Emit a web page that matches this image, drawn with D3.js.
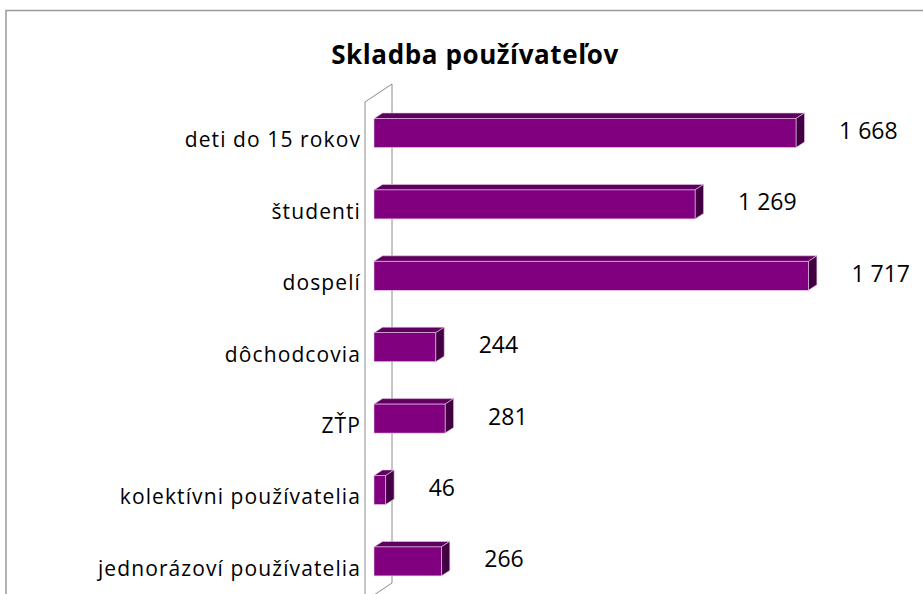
<!DOCTYPE html>
<html>
<head>
<meta charset="utf-8">
<script src="https://cdn.jsdelivr.net/npm/d3@7/dist/d3.min.js"></script>
<style>
  html, body { margin: 0; padding: 0; background: #fff; }
  svg { display: block; }
  text { font-family: "Open Sans", "DejaVu Sans", sans-serif; fill: #000; }
</style>
</head>
<body>
<svg id="chart" width="923" height="594"></svg>
<script>
const title = "Skladba používateľov";
const categories = [
  "deti do 15 rokov",
  "študenti",
  "dospelí",
  "dôchodcovia",
  "ZŤP",
  "kolektívni používatelia",
  "jednorázoví používatelia"
];
const values = [1668, 1269, 1717, 244, 281, 46, 266];
const valueLabels = ["1 668", "1 269", "1 717", "244", "281", "46", "266"];

const W = 923, H = 594;
const svg = d3.select("#chart");

// chart frame
svg.append("path")
  .attr("d", `M6,${H + 5} V10.5 H${W + 5}`)
  .attr("fill", "none")
  .attr("stroke", "#9a9a9a")
  .attr("stroke-width", 1.5);

// title
svg.append("text")
  .attr("x", 475)
  .attr("y", 64)
  .attr("text-anchor", "middle")
  .attr("font-size", 26)
  .attr("font-weight", "bold")
  .attr("letter-spacing", 0.6)
  .text(title);

// scales
const x = d3.scaleLinear().domain([0, 1800]).range([374, 374 + 1800 * 0.2530]);
const y = d3.scaleBand()
  .domain(categories)
  .range([97.3, 97.3 + 71.4 * categories.length])
  .paddingInner(0.594)
  .paddingOuter(0.297);

// 3D depth for the wall and bars
const wallDX = 27, wallDY = -18;
const barDX = 8.5, barDY = -5.5;
const wallFrontX = 365;
const wallTop = 102, wallBottom = 601;

const wall = svg.append("g")
  .attr("fill", "none")
  .attr("stroke", "#8c8c8c")
  .attr("stroke-width", 1);
wall.append("path")
  .attr("d", `M${wallFrontX},${wallBottom} V${wallTop} L${wallFrontX + wallDX},${wallTop + wallDY} V${wallBottom + wallDY} L${wallFrontX},${wallBottom}`);

// bars
const bars = svg.append("g").selectAll("g.bar")
  .data(categories.map((c, i) => ({ c, v: values[i], label: valueLabels[i] })))
  .join("g").attr("class", "bar");

bars.each(function(d) {
  const g = d3.select(this);
  const x0 = x(0), x1 = x(d.v);
  const y0 = y(d.c), h = y.bandwidth();
  // top face
  g.append("path")
    .attr("d", `M${x0},${y0} L${x0 + barDX},${y0 + barDY} L${x1 + barDX},${y0 + barDY} L${x1},${y0} Z`)
    .attr("fill", "#5f005f")
    .attr("stroke", "#e8c8e8").attr("stroke-width", 0.6);
  // side face
  g.append("path")
    .attr("d", `M${x1},${y0} L${x1 + barDX},${y0 + barDY} L${x1 + barDX},${y0 + h + barDY} L${x1},${y0 + h} Z`)
    .attr("fill", "#420042")
    .attr("stroke", "#e8c8e8").attr("stroke-width", 0.6);
  // front face
  g.append("rect")
    .attr("x", x0).attr("y", y0)
    .attr("width", x1 - x0).attr("height", h)
    .attr("fill", "#800080")
    .attr("stroke", "#e8c8e8").attr("stroke-width", 0.6);
});

// value labels
bars.append("text")
  .attr("x", d => x(d.v) + 43)
  .attr("y", d => y(d.c) + y.bandwidth() / 2 - 2)
  .attr("dy", "0.35em")
  .attr("font-size", 23)
  .text(d => d.label);

// category labels
svg.append("g").selectAll("text")
  .data(categories)
  .join("text")
  .attr("x", 361)
  .attr("y", d => y(d) + y.bandwidth() / 2 + 7)
  .attr("dy", "0.35em")
  .attr("text-anchor", "end")
  .attr("font-size", 21)
  .attr("letter-spacing", 1.1)
  .text(d => d);
</script>
</body>
</html>
